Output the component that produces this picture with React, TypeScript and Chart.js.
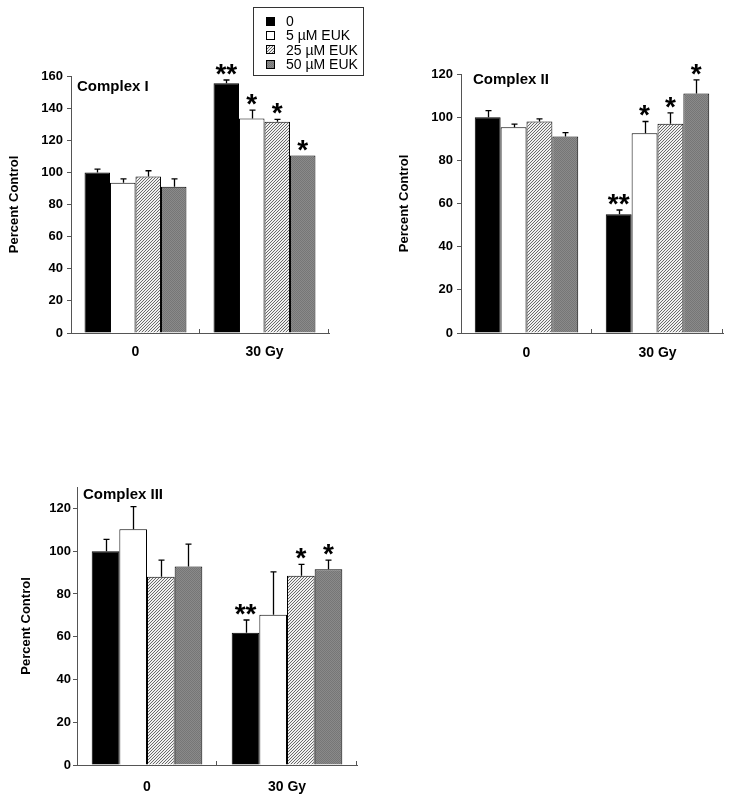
import React, { useEffect, useMemo, useRef } from 'react';
import { Chart, registerables } from 'chart.js';

Chart.register(...registerables);
Chart.defaults.font.family = '"Liberation Sans", Arial, sans-serif';

// ---------- data ----------
const categories = ['0', '30 Gy'];
const seriesNames = ['0', '5 µM EUK', '25 µM EUK', '50 µM EUK'];

// Complex I (percent control)
const complexI_ctrl = [100, 155.5];
const complexI_euk5 = [93.5, 133.5];
const complexI_euk25 = [97.5, 131.5];
const complexI_euk50 = [91, 110.5];
const complexI_err_ctrl = [2, 2];
const complexI_err_euk5 = [2.5, 5.3];
const complexI_err_euk25 = [3.5, 1.5];
const complexI_err_euk50 = [5, 0];
const complexI_stars = [['', '**'], ['', '*'], ['', '*'], ['', '*']];

// Complex II
const complexII_ctrl = [100, 55];
const complexII_euk5 = [95.3, 92.5];
const complexII_euk25 = [98, 97];
const complexII_euk50 = [91, 111];
const complexII_err_ctrl = [3, 2];
const complexII_err_euk5 = [1.5, 5.5];
const complexII_err_euk25 = [1.2, 5];
const complexII_err_euk50 = [1.8, 6.3];
const complexII_stars = [['', '**'], ['', '*'], ['', '*'], ['', '*']];

// Complex III
const complexIII_ctrl = [100, 61.8];
const complexIII_euk5 = [110.2, 70.3];
const complexIII_euk25 = [88, 88.5];
const complexIII_euk50 = [92.8, 91.5];
const complexIII_err_ctrl = [5.5, 6];
const complexIII_err_euk5 = [10.6, 20];
const complexIII_err_euk25 = [7.8, 5.3];
const complexIII_err_euk50 = [10.5, 4.3];
const complexIII_stars = [['', '**'], ['', ''], ['', '*'], ['', '*']];

const yTickStep = 20;

// ---------- panels (layout) ----------
type PanelDef = {
  title: string;
  values: number[][];
  errors: number[][];
  stars: string[][];
  yMax: number;
  left: number; top: number; w: number; h: number;
  yW: number; xH: number; padTop: number; padRight: number;
  yTitlePad: number; yTickPad: number; xTickPad: number;
  titleDx: number; titleDy: number;
};

const panels: PanelDef[] = [
  {
    title: 'Complex I',
    values: [complexI_ctrl, complexI_euk5, complexI_euk25, complexI_euk50],
    errors: [complexI_err_ctrl, complexI_err_euk5, complexI_err_euk25, complexI_err_euk50],
    stars: complexI_stars,
    yMax: 160,
    left: 0, top: 60, w: 340, h: 300,
    yW: 71, xH: 27, padTop: 16, padRight: 11,
    yTitlePad: 7, yTickPad: 4, xTickPad: 3,
    titleDx: 6, titleDy: 11,
  },
  {
    title: 'Complex II',
    values: [complexII_ctrl, complexII_euk5, complexII_euk25, complexII_euk50],
    errors: [complexII_err_ctrl, complexII_err_euk5, complexII_err_euk25, complexII_err_euk50],
    stars: complexII_stars,
    yMax: 120,
    left: 390, top: 60, w: 339, h: 300,
    yW: 71, xH: 27, padTop: 14, padRight: 6,
    yTitlePad: 7, yTickPad: 4, xTickPad: 4,
    titleDx: 12, titleDy: 6,
  },
  {
    title: 'Complex III',
    values: [complexIII_ctrl, complexIII_euk5, complexIII_euk25, complexIII_euk50],
    errors: [complexIII_err_ctrl, complexIII_err_euk5, complexIII_err_euk25, complexIII_err_euk50],
    stars: complexIII_stars,
    yMax: 130,
    left: 0, top: 470, w: 370, h: 325,
    yW: 77, xH: 30, padTop: 17, padRight: 13,
    yTitlePad: 19, yTickPad: 2, xTickPad: 6,
    titleDx: 6, titleDy: 8,
  },
];

// ---------- fills ----------
function hatchTile(): HTMLCanvasElement {
  const c = document.createElement('canvas');
  c.width = 3; c.height = 3;
  const g = c.getContext('2d')!;
  g.fillStyle = '#f0f0f0';
  g.fillRect(0, 0, 3, 3);
  g.fillStyle = '#6a6a6a';
  g.fillRect(2, 0, 1, 1);
  g.fillRect(1, 1, 1, 1);
  g.fillRect(0, 2, 1, 1);
  return c;
}
function grayTile(): HTMLCanvasElement {
  const c = document.createElement('canvas');
  c.width = 2; c.height = 2;
  const g = c.getContext('2d')!;
  g.fillStyle = '#8a8a8a';
  g.fillRect(0, 0, 2, 2);
  g.fillStyle = '#767676';
  g.fillRect(0, 0, 1, 1);
  g.fillRect(1, 1, 1, 1);
  return c;
}

// ---------- plugin: error bars, stars, panel title, inner x ticks ----------
const annotPlugin = {
  id: 'annot',
  afterDatasetsDraw(chart: any, _args: any, opts: any) {
    const ctx: CanvasRenderingContext2D = chart.ctx;
    const ys = chart.scales.y;
    const area = chart.chartArea;
    ctx.save();
    chart.data.datasets.forEach((ds: any, i: number) => {
      const meta = chart.getDatasetMeta(i);
      meta.data.forEach((bar: any, j: number) => {
        const v = ds.data[j];
        const e = opts.errors[i][j];
        const x = Math.round(bar.x) + 0.5;
        const base = ys.getPixelForValue(v);
        const top = ys.getPixelForValue(v + e);
        if (e > 0) {
          ctx.strokeStyle = '#000';
          ctx.lineWidth = 1.3;
          ctx.beginPath();
          ctx.moveTo(x, base);
          ctx.lineTo(x, top);
          ctx.moveTo(x - 3, top);
          ctx.lineTo(x + 3, top);
          ctx.stroke();
        }
        const s = opts.stars[i][j];
        if (s) {
          ctx.fillStyle = '#000';
          ctx.font = 'bold 28px "Liberation Sans", Arial, sans-serif';
          ctx.textAlign = 'center';
          ctx.textBaseline = 'alphabetic';
          ctx.fillText(s, bar.x, top + 3);
        }
      });
    });
    // panel title
    ctx.fillStyle = '#000';
    ctx.font = 'bold 15px "Liberation Sans", Arial, sans-serif';
    ctx.textAlign = 'left';
    ctx.textBaseline = 'middle';
    ctx.fillText(opts.title, area.left + opts.titleDx, area.top + opts.titleDy);
    // inward x ticks at category boundaries
    const n = chart.data.labels.length;
    ctx.strokeStyle = '#555';
    ctx.lineWidth = 1;
    ctx.beginPath();
    for (let k = 1; k <= n; k++) {
      const xx = Math.round(area.left + (k * (area.right - area.left)) / n) - 0.5;
      ctx.moveTo(xx, area.bottom);
      ctx.lineTo(xx, area.bottom - 4);
    }
    ctx.stroke();
    ctx.restore();
  },
};

function buildConfig(p: PanelDef, fills: any[]): any {
  return {
    type: 'bar',
    data: {
      labels: categories,
      datasets: p.values.map((v, i) => ({
        label: seriesNames[i],
        data: v,
        backgroundColor: fills[i],
        borderColor: '#000',
        borderWidth: 1,
        categoryPercentage: 0.79,
        barPercentage: 1,
      })),
    },
    options: {
      responsive: false,
      animation: false,
      devicePixelRatio: 1,
      layout: { padding: { left: 0, top: p.padTop, right: p.padRight, bottom: 0 } },
      plugins: {
        legend: { display: false },
        tooltip: { enabled: false },
        annot: {
          errors: p.errors,
          stars: p.stars,
          title: p.title,
          titleDx: p.titleDx,
          titleDy: p.titleDy,
        },
      },
      scales: {
        x: {
          grid: { display: false },
          border: { display: true, color: '#555', width: 1 },
          ticks: { color: '#000', font: { weight: 'bold', size: 14 }, padding: p.xTickPad },
          afterFit: (s: any) => { s.height = p.xH; },
        },
        y: {
          min: 0,
          max: p.yMax,
          ticks: {
            stepSize: yTickStep,
            color: '#000',
            font: { weight: 'bold', size: 13 },
            padding: p.yTickPad,
          },
          afterBuildTicks: (s: any) => {
            s.ticks = s.ticks.filter((t: any) => t.value % yTickStep === 0);
          },
          grid: { drawOnChartArea: false, drawTicks: true, tickLength: 4, color: '#555' },
          border: { display: true, color: '#555', width: 1 },
          title: {
            display: true,
            text: 'Percent Control',
            color: '#000',
            font: { weight: 'bold', size: 13 },
            padding: { top: p.yTitlePad, bottom: 0 },
          },
          afterFit: (s: any) => { s.width = p.yW; },
        },
      },
    },
    plugins: [annotPlugin],
  };
}

function Panel({ p, fills }: { p: PanelDef; fills: any[] }) {
  const ref = useRef<HTMLCanvasElement>(null);
  useEffect(() => {
    const chart = new Chart(ref.current as HTMLCanvasElement, buildConfig(p, fills));
    return () => chart.destroy();
  }, [p, fills]);
  return (
    <canvas
      ref={ref}
      width={p.w}
      height={p.h}
      style={{ position: 'absolute', left: p.left, top: p.top, width: p.w, height: p.h }}
    />
  );
}

export default function App() {
  const tiles = useMemo(() => ({ hatch: hatchTile(), gray: grayTile() }), []);
  const fills = useMemo(() => {
    const hp = tiles.hatch.getContext('2d')!.createPattern(tiles.hatch, 'repeat');
    const gp = tiles.gray.getContext('2d')!.createPattern(tiles.gray, 'repeat');
    return ['#000000', '#ffffff', hp, gp];
  }, [tiles]);
  const swatchBg = [
    { background: '#000' },
    { background: '#fff' },
    { backgroundImage: `url(${tiles.hatch.toDataURL()})`, imageRendering: 'pixelated' as const },
    { backgroundImage: `url(${tiles.gray.toDataURL()})`, imageRendering: 'pixelated' as const },
  ];
  const rowCenters = [13, 27, 41.5, 56];

  return (
    <div
      style={{
        position: 'absolute',
        left: 0,
        top: 0,
        width: 729,
        height: 795,
        background: '#fff',
        fontFamily: '"Liberation Sans", Arial, sans-serif',
      }}
    >
      {panels.map((p) => (
        <Panel key={p.title} p={p} fills={fills} />
      ))}
      <div
        style={{
          position: 'absolute',
          left: 253,
          top: 7,
          width: 111,
          height: 69,
          border: '1px solid #333',
          boxSizing: 'border-box',
        }}
      >
        {seriesNames.map((name, i) => (
          <React.Fragment key={name}>
            <div
              style={{
                position: 'absolute',
                left: 12,
                top: rowCenters[i] - 4.5,
                width: 9,
                height: 9,
                border: '1px solid #000',
                boxSizing: 'border-box',
                ...swatchBg[i],
              }}
            />
            <div
              style={{
                position: 'absolute',
                left: 32,
                top: rowCenters[i] - 8,
                height: 16,
                lineHeight: '16px',
                fontSize: 14,
                color: '#000',
                whiteSpace: 'nowrap',
              }}
            >
              {name}
            </div>
          </React.Fragment>
        ))}
      </div>
    </div>
  );
}
